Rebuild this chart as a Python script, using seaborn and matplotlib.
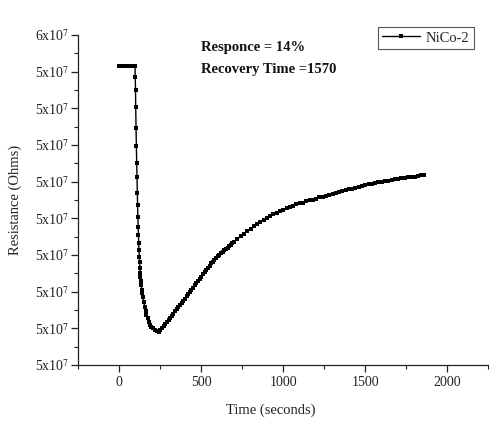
import numpy as np
import pandas as pd
import matplotlib
matplotlib.use("Agg")
import matplotlib.pyplot as plt
import seaborn as sns
from matplotlib.ticker import FixedLocator, MultipleLocator

# ---------------- data (resistance in units of 1e7 Ohms) ----------------
t_base = [0, 8, 16, 24, 32, 40, 48, 56, 64, 72, 80, 88, 96]
r_base = [5.415, 5.415, 5.415, 5.415, 5.415, 5.415, 5.415, 5.415, 5.415,
          5.415, 5.415, 5.415, 5.415]

t_drop = [97, 99, 100, 102, 104, 106, 108, 109, 111, 113, 115, 117, 118,
          120, 122, 124, 126, 127, 129, 131, 133]
r_drop = [5.386, 5.350, 5.304, 5.246, 5.197, 5.152, 5.112, 5.070, 5.036,
          5.004, 4.977, 4.955, 4.932, 4.914, 4.895, 4.881, 4.864, 4.851,
          4.839, 4.828, 4.818]

t_min = [138, 141, 144, 150, 155, 160, 165, 172, 179, 187, 195, 205, 216,
         228, 240]
r_min = [4.805, 4.796, 4.786, 4.772, 4.759, 4.747, 4.736, 4.727, 4.718,
         4.710, 4.704, 4.700, 4.695, 4.693, 4.689]

t_rec = [250, 260, 270, 280, 290, 300, 310, 320, 330, 340, 350, 360, 370,
         380, 390, 400, 410, 420, 430, 440, 450, 460, 470, 480, 490, 500,
         510, 520, 530, 540, 550, 560, 570, 580, 590, 600, 610, 620, 630,
         640, 650, 660, 670, 680, 690, 700,
         720, 740, 760, 780, 800, 820, 840, 860, 880, 900, 920, 940, 960,
         980, 1000, 1020, 1040, 1060, 1080, 1100, 1120, 1140, 1160, 1180,
         1200, 1220, 1240, 1260, 1280, 1300, 1320, 1340, 1360, 1380, 1400,
         1420, 1440, 1460, 1480, 1500, 1520, 1540, 1560, 1580, 1600, 1620,
         1640, 1660, 1680, 1700, 1720, 1740, 1760, 1780, 1800, 1820, 1840,
         1855]
r_rec = [4.695, 4.700, 4.706, 4.711, 4.716, 4.722, 4.728, 4.734, 4.740,
         4.746, 4.752, 4.757, 4.763, 4.769, 4.775, 4.781, 4.787, 4.793,
         4.799, 4.805, 4.811, 4.817, 4.823, 4.829, 4.835, 4.841, 4.847,
         4.853, 4.859, 4.865, 4.871, 4.877, 4.882, 4.887, 4.892, 4.897,
         4.901, 4.905, 4.909, 4.913, 4.917, 4.920, 4.924, 4.928, 4.932,
         4.936,
         4.944, 4.951, 4.958, 4.965, 4.972, 4.978, 4.984, 4.990, 4.995,
         5.001, 5.006, 5.011, 5.015, 5.020, 5.024, 5.028, 5.031, 5.035,
         5.038, 5.041, 5.043, 5.046, 5.049, 5.051, 5.054, 5.057, 5.059,
         5.062, 5.064, 5.067, 5.069, 5.072, 5.074, 5.077, 5.079, 5.081,
         5.084, 5.086, 5.088, 5.090, 5.093, 5.094, 5.096, 5.098, 5.100,
         5.102, 5.103, 5.105, 5.107, 5.108, 5.109, 5.111, 5.112, 5.113,
         5.114, 5.115, 5.117, 5.117]

series_name = "NiCo-2"

x_ticks = [0, 500, 1000, 1500, 2000]
x_tick_labels = ["0", "500", "1000", "1500", "2000"]
y_ticks = [4.6, 4.7, 4.8, 4.9, 5.0, 5.1, 5.2, 5.3, 5.4, 5.5]
y_tick_labels = [r"5x10$^{7}$"] * 9 + [r"6x10$^{7}$"]

annot_lines = ["Responce = 14%", "Recovery Time =1570"]

# ---------------- build frame ----------------
df = pd.DataFrame({
    "time": t_base + t_drop + t_min + t_rec,
    "res": r_base + r_drop + r_min + r_rec,
})

# ---------------- style ----------------
sns.set_style("ticks")
plt.rcParams["font.family"] = ["Liberation Serif", "DejaVu Serif"]
plt.rcParams["mathtext.fontset"] = "stix"

W, H = 490, 421
fig = plt.figure(figsize=(W / 100, H / 100), dpi=100)
ax = fig.add_axes([78.3 / W, 56 / H, 410 / W, 330 / H])

sns.lineplot(data=df, x="time", y="res", ax=ax, color="black",
             linewidth=1.0, marker="s", markersize=3.1, markeredgewidth=0,
             label=series_name, sort=False, estimator=None)

ax.set_xlim(-250, 2250)
ax.set_ylim(4.6, 5.5)

ax.xaxis.set_major_locator(FixedLocator(x_ticks))
ax.set_xticklabels(x_tick_labels)
ax.xaxis.set_minor_locator(MultipleLocator(250))
ax.yaxis.set_major_locator(FixedLocator(y_ticks))
ax.set_yticklabels(y_tick_labels)
ax.yaxis.set_minor_locator(MultipleLocator(0.05))

for s in ["top", "right"]:
    ax.spines[s].set_visible(False)
for s in ["left", "bottom"]:
    ax.spines[s].set_linewidth(0.9)
    ax.spines[s].set_color("#222222")

ax.tick_params(which="major", direction="out", length=4.8, width=0.9,
               color="#222222", labelsize=10, labelcolor="#222222")
ax.tick_params(which="minor", direction="out", length=3.0, width=0.8,
               color="#222222")
ax.tick_params(axis="x", which="major", pad=3)
ax.tick_params(axis="y", which="major", pad=2)

ax.set_xlabel("Time (seconds)", fontsize=10.5, color="#222222")
ax.set_ylabel("Resistance (Ohms)", fontsize=10.5, color="#222222")
ax.xaxis.label.set_va("center")
ax.xaxis.set_label_coords((270.8 - 78.3) / 410, (365 - 410) / 330)
ax.yaxis.label.set_va("center")
ax.yaxis.set_label_coords((15 - 78.3) / 410, 0.5)

fig.text(200.7 / W, 1 - 47 / H, annot_lines[0], fontsize=10.5,
         fontweight="bold", va="center", ha="left", color="#111111")
fig.text(200.7 / W, 1 - 70 / H, annot_lines[1], fontsize=10.5,
         fontweight="bold", va="center", ha="left", color="#111111")

leg = ax.legend(loc="upper right", bbox_to_anchor=(474 / W, 1 - 27 / H),
                bbox_transform=fig.transFigure, frameon=True, fancybox=False,
                edgecolor="#555555", framealpha=1, borderpad=0.3,
                handlelength=2.6, handletextpad=0.4, fontsize=10.5,
                borderaxespad=0)
leg.get_frame().set_linewidth(0.8)

fig.savefig("out.png", dpi=100)
